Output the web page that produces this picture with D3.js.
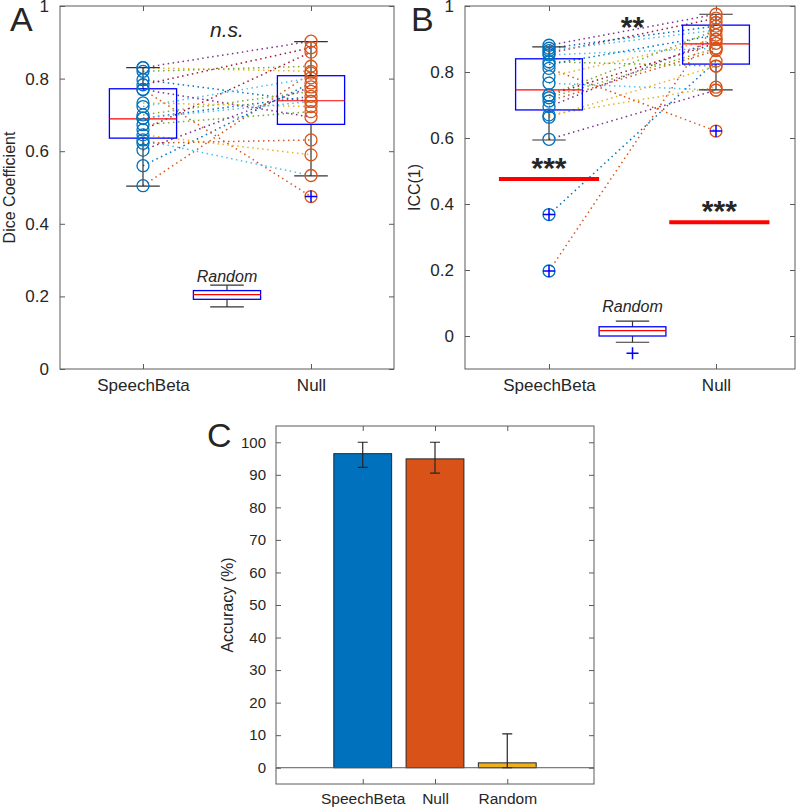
<!DOCTYPE html>
<html>
<head>
<meta charset="utf-8">
<script src="https://cdn.jsdelivr.net/npm/d3@7"></script>
<style>
  body { margin: 0; background: #fff; }
  text { font-family: "Liberation Sans", Arial, Helvetica, sans-serif; fill: #262626; }
</style>
</head>
<body>
<div id="chart"></div>
<script>
// ---- data ----
const groups = ['SpeechBeta', 'Null'];
const subjectColors = ['#0072BD', '#D95319', '#EDB120', '#7E2F8E', '#77AC30', '#4DBEEE', '#A2142F'];

// panel A: Dice coefficient per subject
const diceSpeech = [0.797, 0.505, 0.830, 0.830, 0.673, 0.723, 0.783, 0.560, 0.770, 0.645,
                    0.770, 0.700, 0.631, 0.659, 0.691, 0.622, 0.733, 0.603, 0.820, 0.691];
const diceNull   = [0.737, 0.815, 0.820, 0.903, 0.709, 0.802, 0.885, 0.788, 0.475, 0.590,
                    0.694, 0.765, 0.533, 0.873, 0.751, 0.631, 0.723, 0.777, 0.834, 0.737];
const diceBoxSpeech = {lo: 0.504, q1: 0.636, med: 0.689, q3: 0.772, hi: 0.830, out: []};
const diceBoxNull   = {lo: 0.532, q1: 0.674, med: 0.739, q3: 0.808, hi: 0.902, out: [0.475]};
const diceBoxRandom = {lo: 0.171, q1: 0.192, med: 0.205, q3: 0.216, hi: 0.231, out: []};

// panel B: ICC(1) per subject
const iccSpeech = [0.368, 0.197, 0.670, 0.881, 0.722, 0.766, 0.857, 0.872, 0.811, 0.786,
                   0.596, 0.831, 0.865, 0.730, 0.823, 0.712, 0.663, 0.695, 0.730, 0.852];
const iccNull   = [0.833, 0.950, 0.754, 0.975, 0.872, 0.745, 0.963, 0.939, 0.621, 0.899,
                   0.745, 0.818, 0.927, 0.887, 0.912, 0.865, 0.818, 0.899, 0.927, 0.872];
const iccBoxSpeech = {lo: 0.594, q1: 0.685, med: 0.746, q3: 0.840, hi: 0.876, out: [0.368, 0.197]};
const iccBoxNull   = {lo: 0.746, q1: 0.824, med: 0.885, q3: 0.942, hi: 0.975, out: [0.621]};
const iccBoxRandom = {lo: -0.019, q1: 0.0, med: 0.016, q3: 0.028, hi: 0.045, out: [-0.052]};
const iccThresholds = [{x0: 0.7, x1: 1.3, v: 0.476, label: '***'}, {x0: 1.72, x1: 2.32, v: 0.345, label: '***'}];

// panel C: accuracy
const accCategories = ['SpeechBeta', 'Null', 'Random'];
const accValues = [96.5, 94.9, 1.5];
const accLow    = [92.3, 90.5, 0];
const accHigh   = [100, 100, 10.4];
const barColors = ['#0072BD', '#D95319', '#EDB120'];

// ---- layout ----
const svg = d3.select('#chart').append('svg')
    .attr('width', 800)
    .attr('height', 807);

const axisColor = '#5a5a5a';
const fmt = d3.format('~g');

function frame(g, w, h) {
    g.append('rect')
        .attr('width', w).attr('height', h)
        .attr('fill', 'none')
        .attr('stroke', axisColor)
        .attr('stroke-width', 1);
}

function styleAxis(sel, size) {
    sel.select('.domain').remove();
    sel.selectAll('.tick line').attr('stroke', axisColor);
    sel.selectAll('.tick text').attr('font-size', (size || 17) + 'px').attr('fill', '#262626')
        .style('font-family', '"Liberation Sans", Arial, sans-serif');
}

function drawBox(g, x, y, cx, s) {
    const bw = x(cx + 0.2) - x(cx - 0.2);
    const cw = x(cx + 0.1) - x(cx - 0.1);
    const px = x(cx);
    g.append('line').attr('x1', px).attr('x2', px).attr('y1', y(s.q3)).attr('y2', y(s.hi))
        .attr('stroke', '#333').attr('stroke-width', 1.2);
    g.append('line').attr('x1', px).attr('x2', px).attr('y1', y(s.q1)).attr('y2', y(s.lo))
        .attr('stroke', '#333').attr('stroke-width', 1.2);
    [s.hi, s.lo].forEach(v => {
        g.append('line').attr('x1', px - cw / 2).attr('x2', px + cw / 2).attr('y1', y(v)).attr('y2', y(v))
            .attr('stroke', '#333').attr('stroke-width', 1.2);
    });
    g.append('rect')
        .attr('x', px - bw / 2).attr('y', y(s.q3))
        .attr('width', bw).attr('height', y(s.q1) - y(s.q3))
        .attr('fill', 'none').attr('stroke', '#0000FF').attr('stroke-width', 1.3);
    g.append('line').attr('x1', px - bw / 2).attr('x2', px + bw / 2).attr('y1', y(s.med)).attr('y2', y(s.med))
        .attr('stroke', '#FF0000').attr('stroke-width', 1.2);
}

function drawPlus(g, x, y, cx, vals) {
    vals.forEach(v => {
        const px = x(cx), py = y(v);
        g.append('path')
            .attr('d', `M${px - 6},${py}H${px + 6}M${px},${py - 6}V${py + 6}`)
            .attr('stroke', '#0000FF').attr('stroke-width', 1.5);
    });
}

function pairPanel(opt) {
    const w = opt.right - opt.left, h = opt.bottom - opt.top;
    const g = svg.append('g').attr('transform', `translate(${opt.left},${opt.top})`);
    const x = d3.scaleLinear().domain(opt.xDomain).range([0, w]);
    const y = d3.scaleLinear().domain(opt.yDomain).range([h, 0]);

    frame(g, w, h);
    g.append('g').call(d3.axisLeft(y).tickValues(opt.yTicks).tickSize(-5).tickPadding(11).tickFormat(fmt)).call(styleAxis);
    g.append('g').attr('transform', `translate(${w},0)`)
        .call(d3.axisRight(y).tickValues(opt.yTicks).tickSize(-5).tickFormat('')).call(styleAxis);
    g.append('g').attr('transform', `translate(0,${h})`)
        .call(d3.axisBottom(x).tickValues([1, 2]).tickSize(-5).tickPadding(10).tickFormat((d, i) => groups[i]))
        .call(styleAxis);
    g.append('g').call(d3.axisTop(x).tickValues([1, 2]).tickSize(-5).tickFormat('')).call(styleAxis);

    // subject lines
    opt.speech.forEach((v, i) => {
        g.append('line')
            .attr('x1', x(1)).attr('y1', y(v))
            .attr('x2', x(2)).attr('y2', y(opt.nul[i]))
            .attr('stroke', subjectColors[i % subjectColors.length])
            .attr('stroke-width', 1.5)
            .attr('stroke-dasharray', '1.5,3.5');
    });

    drawBox(g, x, y, 1, opt.boxSpeech);
    drawBox(g, x, y, 2, opt.boxNull);
    drawBox(g, x, y, 1.5, opt.boxRandom);

    g.selectAll('.ptS').data(opt.speech).join('circle')
        .attr('cx', x(1)).attr('cy', d => y(d)).attr('r', 6)
        .attr('fill', 'none').attr('stroke', '#0072BD').attr('stroke-width', 1.3);
    g.selectAll('.ptN').data(opt.nul).join('circle')
        .attr('cx', x(2)).attr('cy', d => y(d)).attr('r', 6)
        .attr('fill', 'none').attr('stroke', '#D95319').attr('stroke-width', 1.3);

    drawPlus(g, x, y, 1, opt.boxSpeech.out);
    drawPlus(g, x, y, 2, opt.boxNull.out);
    drawPlus(g, x, y, 1.5, opt.boxRandom.out);

    g.append('text')
        .attr('x', x(1.5)).attr('y', y(opt.boxRandom.hi) - opt.randomGap)
        .attr('text-anchor', 'middle').attr('font-size', '16px').attr('font-style', 'italic')
        .attr('fill', '#000')
        .text('Random');

    g.append('text')
        .attr('transform', `translate(${opt.ylabX},${h / 2}) rotate(-90)`)
        .attr('text-anchor', 'middle').attr('font-size', '16px')
        .text(opt.ylabel);

    return {g, x, y};
}

// ---- panel A ----
const A = pairPanel({
    left: 60, right: 394, top: 6, bottom: 369,
    xDomain: [0.506, 2.494], yDomain: [0, 1], yTicks: [0, 0.2, 0.4, 0.6, 0.8, 1],
    speech: diceSpeech, nul: diceNull,
    boxSpeech: diceBoxSpeech, boxNull: diceBoxNull, boxRandom: diceBoxRandom,
    ylabel: 'Dice Coefficient', ylabX: -45, randomGap: 3
});
A.g.append('text')
    .attr('x', A.x(1.5)).attr('y', 31)
    .attr('text-anchor', 'middle').attr('font-size', '21px').attr('font-style', 'italic')
    .attr('fill', '#000')
    .text('n.s.');

// ---- panel B ----
const B = pairPanel({
    left: 465, right: 795, top: 6, bottom: 369,
    xDomain: [0.497, 2.473], yDomain: [-0.1, 1], yTicks: [0, 0.2, 0.4, 0.6, 0.8, 1],
    speech: iccSpeech, nul: iccNull,
    boxSpeech: iccBoxSpeech, boxNull: iccBoxNull, boxRandom: iccBoxRandom,
    ylabel: 'ICC(1)', ylabX: -45, randomGap: 9
});
B.g.append('text')
    .attr('x', B.x(1.5)).attr('y', 31)
    .attr('text-anchor', 'middle').attr('font-size', '30px').attr('font-weight', 'bold')
    .attr('fill', '#000')
    .text('**');
iccThresholds.forEach(t => {
    B.g.append('line')
        .attr('x1', B.x(t.x0)).attr('x2', B.x(t.x1))
        .attr('y1', B.y(t.v)).attr('y2', B.y(t.v))
        .attr('stroke', '#FF0000').attr('stroke-width', 4);
    B.g.append('text')
        .attr('x', B.x((t.x0 + t.x1) / 2)).attr('y', B.y(t.v) - 1)
        .attr('text-anchor', 'middle').attr('font-size', '30px').attr('font-weight', 'bold')
        .attr('fill', '#000')
        .text(t.label);
});

// ---- panel C ----
const cL = 276, cR = 594, cT = 426, cB = 784;
const cw = cR - cL, ch = cB - cT;
const gC = svg.append('g').attr('transform', `translate(${cL},${cT})`);
const xC = d3.scaleLinear().domain([-0.2, 4.2]).range([0, cw]);
const yC = d3.scaleLinear().domain([-5, 105]).range([ch, 0]);
const accTicks = d3.range(0, 101, 10);

frame(gC, cw, ch);
gC.append('g').call(d3.axisLeft(yC).tickValues(accTicks).tickSize(-5).tickPadding(10))
    .call(s => styleAxis(s, 15));
gC.append('g').attr('transform', `translate(${cw},0)`)
    .call(d3.axisRight(yC).tickValues(accTicks).tickSize(-5).tickFormat('')).call(styleAxis);
gC.append('g').attr('transform', `translate(0,${ch})`)
    .call(d3.axisBottom(xC).tickValues([1, 2, 3]).tickSize(-5).tickPadding(9).tickFormat((d, i) => accCategories[i]))
    .call(s => styleAxis(s, 15.5));
gC.append('g').call(d3.axisTop(xC).tickValues([1, 2, 3]).tickSize(-5).tickFormat('')).call(styleAxis);

gC.selectAll('.bar').data(accValues).join('rect')
    .attr('x', (d, i) => xC(i + 1 - 0.4))
    .attr('width', xC(0.8) - xC(0))
    .attr('y', d => yC(d))
    .attr('height', d => yC(0) - yC(d))
    .attr('fill', (d, i) => barColors[i])
    .attr('stroke', '#262626').attr('stroke-width', 1);

gC.append('line')
    .attr('x1', 0).attr('x2', cw).attr('y1', yC(0)).attr('y2', yC(0))
    .attr('stroke', axisColor).attr('stroke-width', 1);

accValues.forEach((v, i) => {
    const px = xC(i + 1);
    gC.append('path')
        .attr('d', `M${px},${yC(accLow[i])}V${yC(accHigh[i])}M${px - 5},${yC(accHigh[i])}H${px + 5}M${px - 5},${yC(accLow[i])}H${px + 5}`)
        .attr('stroke', '#262626').attr('stroke-width', 1.2).attr('fill', 'none');
});

gC.append('text')
    .attr('transform', `translate(-43,${ch / 2}) rotate(-90)`)
    .attr('text-anchor', 'middle').attr('font-size', '16px')
    .text('Accuracy (%)');

// ---- panel letters ----
[['A', 10, 31], ['B', 411, 31], ['C', 207, 447]].forEach(([t, x, y]) => {
    svg.append('text').attr('x', x).attr('y', y)
        .attr('font-size', '34px').attr('fill', '#000')
        .text(t);
});
</script>
</body>
</html>
